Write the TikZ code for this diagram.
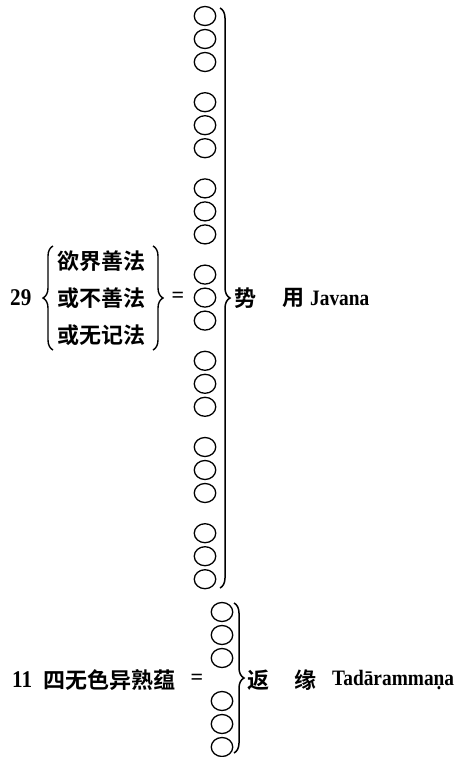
\documentclass[tikz,border=0pt]{standalone}
\usepackage{fontspec}
\setmainfont{Liberation Serif}
\newfontfamily\latc{Liberation Serif}[FakeStretch=0.88]
\newfontfamily\cjk{Noto Sans CJK SC}[UprightFont=* Bold]
\usetikzlibrary{decorations.pathreplacing,shapes.geometric}
\begin{document}
\begin{tikzpicture}[x=1pt,y=-1pt,
  ring/.style={draw, ellipse, line width=1.3pt, minimum width=21.5pt, minimum height=19pt, inner sep=0pt},
  bigbrace/.style={decorate, decoration={brace, amplitude=10pt}, line width=1.5pt},
  smallbrace/.style={decorate, decoration={brace, amplitude=10pt}, line width=1.4pt},
  num/.style={font=\latc\fontsize{24}{24}\selectfont\bfseries, inner sep=0pt, anchor=west},
  lat/.style={font=\latc\fontsize{22}{22}\selectfont\bfseries, inner sep=0pt, anchor=west},
  zh/.style={font=\cjk\fontsize{22}{22}\selectfont, inner sep=0pt, anchor=west},
  eq/.style={font=\fontsize{22}{22}\selectfont\bfseries, inner sep=0pt}
]
\fill[white] (0,0) rectangle (472,757);
\useasboundingbox (0,0) rectangle (472,757);

% top column of circles
\foreach \g in {0,...,6}
  \foreach \i in {0,1,2}
    \node[ring] (c\g\i) at (205, {16+86.2*\g+23*\i}) {};
% bottom column of circles
\foreach \g/\base in {0/612,1/701}
  \foreach \i in {0,1,2}
    \node[ring] (d\g\i) at (222, {\base+23*\i}) {};

% top row
\node[num] (n29) at (10,298) {29};
\node[zh] (l1) at (57,261) {欲界善法};
\node[zh] (l2) at (57,298) {或不善法};
\node[zh] (l3) at (57,335) {或无记法};
\coordinate (lbt) at (53,246);
\coordinate (lbb) at (53,350);
\draw[smallbrace] (lbb) -- (lbt);
\coordinate (rbt) at (153,246);
\coordinate (rbb) at (153,350);
\draw[smallbrace] (rbt) -- (rbb);
\node[eq] (eq1) at (178,297) {=};
\coordinate (tbt) at (220,8);
\coordinate (tbb) at (220,588);
\draw[bigbrace] (tbt) -- (tbb);
\node[zh] (shi) at (234,298) {势};
\node[zh] (yong) at (282,298) {用};
\node[lat] (jav) at (310,298) {Javana};

% bottom row
\node[num] (n11) at (12,680) {11};
\node[zh] (b1) at (43,680) {四无色异熟蕴};
\node[eq] (eq2) at (197,679) {=};
\coordinate (bbt) at (234,603);
\coordinate (bbb) at (234,753);
\draw[bigbrace] (bbt) -- (bbb);
\node[zh] (fan) at (247,680) {返};
\node[zh] (yuan) at (294,680) {缘};
\node[lat] (tad) at (332,680) {Tadārammaṇa};
\end{tikzpicture}
\end{document}
